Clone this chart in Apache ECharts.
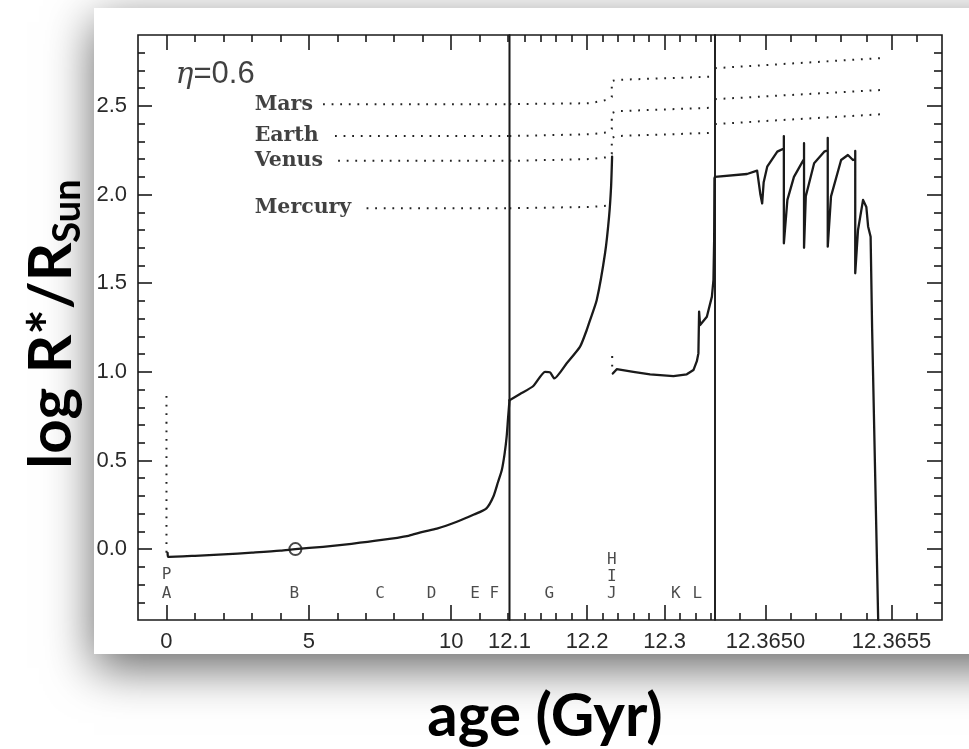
<!DOCTYPE html>
<html>
<head>
<meta charset="utf-8">
<script src="https://cdn.jsdelivr.net/npm/echarts@6/dist/echarts.min.js"></script>
<style>
  html, body { margin: 0; padding: 0; background: #ffffff; }
  #chart { width: 969px; height: 749px; }
</style>
</head>
<body>
<div id="chart"></div>
<script>
// ---- axes: shared y range, three broken x panels ----
const yMin = -0.4, yMax = 2.9;
const yMajorTicks = [0, 0.5, 1, 1.5, 2, 2.5];
const yMinorTicks = [-0.3, -0.2, -0.1, 0.1, 0.2, 0.3, 0.4, 0.6, 0.7, 0.8, 0.9, 1.1, 1.2, 1.3, 1.4,
                     1.6, 1.7, 1.8, 1.9, 2.1, 2.2, 2.3, 2.4, 2.6, 2.7, 2.8];
const yTickLabels = [0, 0.5, 1, 1.5, 2, 2.5];

const panelMin = [-1, 12.1, 12.3648];
const panelMax = [12.05, 12.365, 12.3657];
const xMajorTicks = [[0, 5, 10], [12.2, 12.3], [12.365, 12.3655]];
const xMinorTicks = [
  [1, 2, 3, 4, 6, 7, 8, 9, 11, 12],
  [12.12, 12.14, 12.16, 12.18, 12.22, 12.24, 12.26, 12.28, 12.32, 12.34, 12.36],
  [12.3649, 12.3651, 12.3652, 12.3653, 12.3654, 12.3656]
];
const xTickLabels = [[0, 5, 10], [12.1, 12.2, 12.3], [12.365, 12.3655]];
const xLabelDigits = [0, 1, 4];

// ---- stellar radius track (age in Gyr, log R*/Rsun) ----
// pre-main-sequence contraction (dotted)
const pmsAge = [0, 0];
const pmsLogR = [-0.02, 0.9];
// main sequence up to the base of the red giant branch
const msAge  = [0.04, 0.06, 1, 2, 3, 4, 4.53, 5.5, 6.5, 7.5, 8.5, 9.0, 9.5, 10.2, 10.8, 11.24, 11.48, 11.65, 11.78, 11.88, 11.95, 12.0, 12.05];
const msLogR = [-0.022, -0.044, -0.038, -0.03, -0.02, -0.009, 0.0, 0.013, 0.03, 0.05, 0.075, 0.097, 0.115, 0.154, 0.195, 0.23, 0.295, 0.38, 0.446, 0.54, 0.634, 0.74, 0.84];
// present Sun
const sunAge = [4.53];
const sunLogR = [0.0];
// red giant branch
const rgbAge  = [12.1, 12.1136, 12.1307, 12.1458, 12.1523, 12.1578, 12.1738, 12.191, 12.1996, 12.2039, 12.2125, 12.2232, 12.2284, 12.231, 12.2323];
const rgbLogR = [0.84, 0.875, 0.92, 1.0, 0.997, 0.963, 1.048, 1.142, 1.236, 1.292, 1.405, 1.669, 1.876, 2.045, 2.214];
// helium flash (dotted)
const flashAge = [12.2324, 12.2324];
const flashLogR = [1.03, 1.11];
// horizontal branch and early AGB
const hbAge  = [12.2332, 12.2383, 12.2597, 12.2813, 12.3114, 12.3286, 12.3372, 12.3416, 12.3436, 12.3445, 12.3458, 12.3545, 12.361, 12.363, 12.3639, 12.3643, 12.365];
const hbLogR = [0.99, 1.015, 1.0, 0.986, 0.976, 0.986, 1.01, 1.06, 1.104, 1.34, 1.264, 1.311, 1.424, 1.518, 1.744, 2.092, 2.1];
// thermally pulsing AGB and departure
const tpAge  = [12.3648, 12.364927, 12.364967, 12.36498, 12.364987, 12.364993, 12.365007, 12.365047,
                12.365073, 12.365073, 12.365073, 12.365087, 12.365113, 12.365147,
                12.365153, 12.365153, 12.365153, 12.36516, 12.365193, 12.365233,
                12.365247, 12.365247, 12.365247, 12.36526, 12.3653, 12.365327, 12.365347,
                12.365356, 12.365356, 12.365356, 12.365367, 12.365387, 12.3654, 12.365407, 12.365417, 12.365423, 12.365447];
const tpLogR = [2.1, 2.116, 2.135, 2.0, 1.95, 2.07, 2.157, 2.242,
                2.26, 2.33, 1.725, 1.97, 2.1, 2.186,
                2.2, 2.29, 1.7, 1.99, 2.177, 2.242,
                2.25, 2.32, 1.706, 1.99, 2.195, 2.223, 2.195,
                2.2, 2.246, 1.556, 1.8, 1.97, 1.93, 1.82, 1.762, 1.24, -0.4];

// ---- planetary orbits (dotted), per panel ----
const marsAge1 = [5.5, 12.05],   marsLogR1 = [2.51, 2.51];
const earthAge1 = [5.92, 12.05], earthLogR1 = [2.33, 2.33];
const venusAge1 = [6.03, 12.05], venusLogR1 = [2.19, 2.19];
const mercAge1 = [7.03, 12.05],  mercLogR1 = [1.923, 1.923];

const orbitAge2 = [12.1, 12.2039, 12.2254, 12.2319, 12.2319, 12.2383, 12.362];
const marsLogR2  = [2.51, 2.515, 2.534, 2.55, 2.64, 2.647, 2.665];
const earthLogR2 = [2.33, 2.34, 2.35, 2.37, 2.46, 2.47, 2.49];
const venusLogR2 = [2.19, 2.2, 2.21, 2.23, 2.32, 2.33, 2.348];
const mercAge2 = [12.1, 12.2039, 12.2254];
const mercLogR2 = [1.923, 1.93, 1.937];

const orbitAge3 = [12.3648, 12.36546];
const marsLogR3  = [2.713, 2.77];
const earthLogR3 = [2.538, 2.59];
const venusLogR3 = [2.398, 2.453];

// ---- annotations ----
const planetNames = ['Mars', 'Earth', 'Venus', 'Mercury'];
const planetLabelAge = [3.08, 3.08, 3.08, 3.08];
const planetLabelLogR = [2.505, 2.33, 2.19, 1.925];

const phaseNames1 = ['P', 'A', 'B', 'C', 'D', 'E', 'F'];
const phaseAge1 = [0, 0, 4.49, 7.5, 9.31, 10.84, 11.52];
const phaseY1 = [-0.147, -0.25, -0.25, -0.25, -0.25, -0.25, -0.25];
const phaseNames2 = ['G', 'H', 'I', 'J', 'K', 'L'];
const phaseAge2 = [12.1514, 12.2319, 12.2319, 12.2319, 12.3144, 12.3423];
const phaseY2 = [-0.25, -0.058, -0.156, -0.25, -0.25, -0.25];

const etaAge = [0.3];
const etaLogR = [2.675];

// ---- styling ----
const INK = '#1a1a1a';
const LABEL = '#2a2a2a';
const PANEL_TOP = 35, PANEL_H = 585;
const panels = [
  { left: 138, width: 371.5 },
  { left: 509.5, width: 205.5 },
  { left: 715, width: 227 }
];

function xTickAxis(p, side, ticks, len, labels) {
  return {
    type: 'value', gridIndex: p, position: side,
    min: panelMin[p], max: panelMax[p],
    axisLine: { show: false, onZero: false }, splitLine: { show: false },
    axisTick: { show: true, inside: true, length: len, customValues: ticks,
                lineStyle: { color: INK, width: 1.6 } },
    axisLabel: labels ? {
      show: true, customValues: labels, margin: 11, fontSize: 22,
      fontFamily: 'Liberation Sans', color: LABEL,
      formatter: v => Number(v).toFixed(xLabelDigits[p])
    } : { show: false }
  };
}
function yTickAxis(p, side, ticks, len, labels) {
  return {
    type: 'value', gridIndex: p, position: side, min: yMin, max: yMax,
    axisLine: { show: false, onZero: false }, splitLine: { show: false },
    axisTick: { show: true, inside: true, length: len, customValues: ticks,
                lineStyle: { color: INK, width: 1.6 } },
    axisLabel: labels ? {
      show: true, customValues: labels, margin: 11, fontSize: 22,
      fontFamily: 'Liberation Sans', color: LABEL,
      formatter: v => Number(v).toFixed(1)
    } : { show: false }
  };
}

const xAxis = [];
for (let p = 0; p < 3; p++) {
  xAxis.push(xTickAxis(p, 'bottom', xMajorTicks[p], 15, xTickLabels[p]));
  xAxis.push(xTickAxis(p, 'bottom', xMinorTicks[p], 7, null));
  xAxis.push(xTickAxis(p, 'top', xMajorTicks[p], 15, null));
  xAxis.push(xTickAxis(p, 'top', xMinorTicks[p], 7, null));
}
const yAxis = [
  yTickAxis(0, 'left', yMajorTicks, 14, yTickLabels),
  yTickAxis(0, 'left', yMinorTicks, 7, null),
  { type: 'value', gridIndex: 1, min: yMin, max: yMax, show: false, axisLine: { onZero: false } },
  yTickAxis(2, 'right', yMajorTicks, 15, null),
  yTickAxis(2, 'right', yMinorTicks, 8, null)
];
const yIndexOf = [0, 2, 3];

const zip = (xs, ys) => xs.map((x, i) => [x, ys[i]]);

function solid(xs, ys, p, smooth) {
  return {
    type: 'line', xAxisIndex: p * 4, yAxisIndex: yIndexOf[p],
    data: zip(xs, ys), symbol: 'none', clip: true, silent: true,
    smooth: smooth || false,
    lineStyle: { color: INK, width: 2.3, join: 'round', cap: 'round' }, z: 5
  };
}
function dotted(xs, ys, p) {
  return {
    type: 'line', xAxisIndex: p * 4, yAxisIndex: yIndexOf[p],
    data: zip(xs, ys), symbol: 'none', clip: true, silent: true,
    lineStyle: { color: '#222', width: 2, type: [1.8, 6.8], cap: 'butt' }, z: 4
  };
}
function letters(names, xs, ys, p) {
  return {
    type: 'scatter', xAxisIndex: p * 4, yAxisIndex: yIndexOf[p],
    data: names.map((n, i) => ({ name: n, value: [xs[i], ys[i]] })),
    symbolSize: 1, itemStyle: { color: 'rgba(0,0,0,0)' }, silent: true,
    label: { show: true, position: 'inside', formatter: '{b}',
             fontFamily: 'DejaVu Sans Mono', fontSize: 16, color: '#1e1e1e' }, z: 6
  };
}

const series = [
  dotted(pmsAge, pmsLogR, 0),
  solid(msAge, msLogR, 0, 0.25),
  {
    type: 'scatter', xAxisIndex: 0, yAxisIndex: 0, data: zip(sunAge, sunLogR),
    symbol: 'circle', symbolSize: 12, silent: true,
    itemStyle: { color: 'rgba(255,255,255,0)', borderColor: INK, borderWidth: 2 }, z: 6
  },
  solid(rgbAge, rgbLogR, 1, 0.2),
  dotted(flashAge, flashLogR, 1),
  solid(hbAge, hbLogR, 1),
  solid(tpAge, tpLogR, 2),

  dotted(marsAge1, marsLogR1, 0), dotted(earthAge1, earthLogR1, 0),
  dotted(venusAge1, venusLogR1, 0), dotted(mercAge1, mercLogR1, 0),
  dotted(orbitAge2, marsLogR2, 1), dotted(orbitAge2, earthLogR2, 1),
  dotted(orbitAge2, venusLogR2, 1), dotted(mercAge2, mercLogR2, 1),
  dotted(orbitAge3, marsLogR3, 2), dotted(orbitAge3, earthLogR3, 2),
  dotted(orbitAge3, venusLogR3, 2),

  {
    type: 'scatter', xAxisIndex: 0, yAxisIndex: 0,
    data: planetNames.map((n, i) => ({ name: n, value: [planetLabelAge[i], planetLabelLogR[i]] })),
    symbolSize: 1, itemStyle: { color: 'rgba(0,0,0,0)' }, silent: true,
    label: { show: true, position: 'right', distance: 0, formatter: '{b}',
             fontFamily: 'DejaVu Serif', fontWeight: 'bold', fontSize: 20.5, color: '#111' }, z: 6
  },
  letters(phaseNames1, phaseAge1, phaseY1, 0),
  letters(phaseNames2, phaseAge2, phaseY2, 1),
  {
    type: 'scatter', xAxisIndex: 0, yAxisIndex: 0,
    data: [{ name: 'eta', value: [etaAge[0], etaLogR[0]] }],
    symbolSize: 1, itemStyle: { color: 'rgba(0,0,0,0)' }, silent: true,
    label: { show: true, position: 'right', distance: 0,
             formatter: '{e|η}{n|=0.6}',
             rich: {
               e: { fontFamily: 'DejaVu Serif', fontStyle: 'italic', fontSize: 30, color: '#111' },
               n: { fontFamily: 'Liberation Sans', fontSize: 31, color: '#111' }
             } }, z: 6
  }
];

const chart = echarts.init(document.getElementById('chart'), null, { renderer: 'canvas' });
chart.setOption({
  animation: false,
  backgroundColor: '#ffffff',
  grid: panels.map(g => ({
    left: g.left, top: PANEL_TOP, width: g.width, height: PANEL_H,
    show: true, borderColor: INK, borderWidth: 1.6, backgroundColor: 'rgba(0,0,0,0)',
    containLabel: false
  })),
  xAxis: xAxis,
  yAxis: yAxis,
  series: series,
  graphic: [
    {
      type: 'rect', z: -10, silent: true,
      shape: { x: 94, y: 8, width: 1000, height: 646 },
      style: { fill: '#ffffff', shadowBlur: 45, shadowColor: 'rgba(0,0,0,0.6)', shadowOffsetY: 14 }
    },
    {
      type: 'text', x: 545, y: 717, silent: true,
      style: { text: 'age (Gyr)', fontFamily: 'Lato', fontWeight: 'bold', fontSize: 60,
               fill: '#000', align: 'center', verticalAlign: 'middle' }
    },
    {
      type: 'text', x: 52, y: 324, rotation: Math.PI / 2, silent: true,
      style: {
        text: '{a|log R*/R}{s|Sun}', align: 'center', verticalAlign: 'middle',
        rich: {
          a: { fontFamily: 'Lato', fontWeight: 'bold', fontSize: 60, lineHeight: 70, fill: '#000', verticalAlign: 'middle' },
          s: { fontFamily: 'Lato', fontWeight: 'bold', fontSize: 38, lineHeight: 36, fill: '#000', verticalAlign: 'bottom' }
        }
      }
    }
  ]
});
</script>
</body>
</html>
